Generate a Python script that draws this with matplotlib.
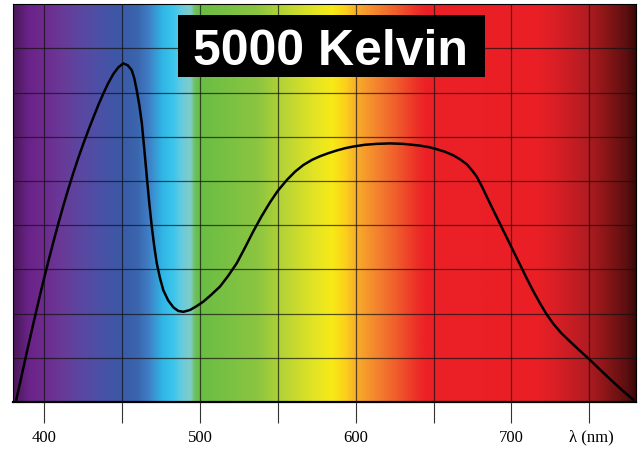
import numpy as np
import matplotlib
matplotlib.use('Agg')
import matplotlib.pyplot as plt
from matplotlib.colors import LinearSegmentedColormap
from matplotlib.patches import Rectangle

# spectral power distribution of the 5000 K lamp
wavelength = [382, 385.3, 388.7, 392, 395.1, 397.5, 400, 403, 405.8, 409,
              412.2, 415.4, 418.6, 421.8, 425, 428.3, 431.5, 434.7, 437.9, 441,
              444.3, 447.5, 450.7, 453.5, 456.1, 457.8, 459.3, 461, 462.6, 464.2,
              465.8, 467.4, 469, 470.6, 472.2, 474.3, 476.4, 479.5, 482.9, 486,
              489.3, 493.5, 497.9, 502.1, 506.4, 512.8, 518, 523.6, 529, 534.2,
              539.5, 545, 550, 555.7, 561, 566.3, 572, 577.1, 582.5, 587.8,
              593, 598.5, 606, 613.5, 622, 630.6, 636, 641.3, 646.5, 652,
              657.5, 662.7, 667, 671.3, 674.5, 677.7, 681, 684.1, 687.4, 690.6,
              693.8, 697, 700.2, 703.4, 706.6, 709.8, 714, 718.4, 722.5, 726.9,
              732, 737.6, 744, 750.5, 757, 763.3, 771, 778.3]
intensity = [0.05, 0.58, 1.12, 1.63, 2.10, 2.46, 2.82, 3.24, 3.62, 4.04,
             4.44, 4.82, 5.18, 5.52, 5.84, 6.15, 6.44, 6.72, 6.98, 7.21,
             7.42, 7.57, 7.66, 7.62, 7.51, 7.32, 7.06, 6.72, 6.31, 5.72,
             5.10, 4.50, 3.97, 3.52, 3.14, 2.80, 2.53, 2.30, 2.14, 2.06,
             2.04, 2.08, 2.17, 2.27, 2.40, 2.61, 2.85, 3.14, 3.50, 3.86,
             4.20, 4.52, 4.78, 5.02, 5.21, 5.36, 5.48, 5.56, 5.63, 5.69,
             5.74, 5.78, 5.82, 5.84, 5.85, 5.84, 5.82, 5.80, 5.77, 5.72,
             5.66, 5.58, 5.49, 5.38, 5.25, 5.10, 4.88, 4.65, 4.41, 4.18,
             3.95, 3.72, 3.49, 3.26, 3.03, 2.80, 2.51, 2.23, 1.99, 1.77,
             1.56, 1.37, 1.16, 0.95, 0.73, 0.52, 0.27, 0.05]

tick_pos = [400, 450, 500, 550, 600, 650, 700, 750]
tick_labels = ['400', '', '500', '', '600', '', '700', ' λ (nm)']
title = '5000 Kelvin'

# background rainbow (style only)
spec_nm = [380, 390, 400, 410, 422, 435, 448, 460, 467, 476, 483, 489, 494, 497,
           500, 537, 556, 575, 585, 593, 601, 614, 627, 640, 646, 716, 729, 748,
           761, 774, 780]
spec_col = ['#4a1858', '#6a2388', '#6e2b8e', '#6a3896', '#5c46a0', '#4c50a6',
            '#3c58a6', '#3a66ae', '#3f7ec4', '#2fb6e6', '#3cc6ec', '#6ccbdb',
            '#80cdc8', '#6cbf58', '#6abd45', '#8bc540', '#bcd633', '#e6e523',
            '#f7ea16', '#fbd21c', '#f8ab2b', '#f3832e', '#f05a2c', '#ec2d27',
            '#ec1f26', '#ea1f26', '#d81f25', '#b31c22', '#8a1617', '#5c0f10',
            '#3a0808']
lo, hi = spec_nm[0], spec_nm[-1]
cmap = LinearSegmentedColormap.from_list(
    'spec', [((n - lo) / (hi - lo), c) for n, c in zip(spec_nm, spec_col)], N=1024)

fig = plt.figure(figsize=(6.44, 4.51), dpi=100)
ax = fig.add_axes([0.0205, 0.1087, 0.967, 0.882])

grad = np.linspace(0, 1, 1024)[None, :]
ax.imshow(grad, cmap=cmap, aspect='auto', extent=[lo, hi, 0, 9],
          interpolation='bilinear', zorder=0)

ax.set_xlim(lo, hi)
ax.set_ylim(0, 9)

ax.set_xticks(tick_pos)
ax.set_xticklabels(tick_labels, fontfamily='Liberation Serif', fontsize=12)
ax.set_yticks(range(1, 9))
ax.tick_params(axis='y', length=0, labelleft=False)
ax.tick_params(axis='x', length=15, width=0.8, color='#333333', pad=5)
ax.grid(True, color='#111111', alpha=0.7, linewidth=0.9, zorder=1)
ax.set_axisbelow(False)

ax.plot(wavelength, intensity, color='black', linewidth=1.8, zorder=3,
        solid_capstyle='round', solid_joinstyle='round')

for s in ['left', 'right', 'top']:
    ax.spines[s].set_linewidth(0.8)
ax.spines['bottom'].set_linewidth(1.6)

ax.add_patch(Rectangle((0.2646, 0.817), 0.493, 0.156, transform=ax.transAxes,
                       facecolor='black', edgecolor='none', zorder=4))
ax.text(0.5095, 0.847, title, transform=ax.transAxes, ha='center', va='baseline',
        color='white', fontsize=36, fontweight='bold', fontfamily='Liberation Sans',
        zorder=5)

fig.savefig('out.png', dpi=100)
